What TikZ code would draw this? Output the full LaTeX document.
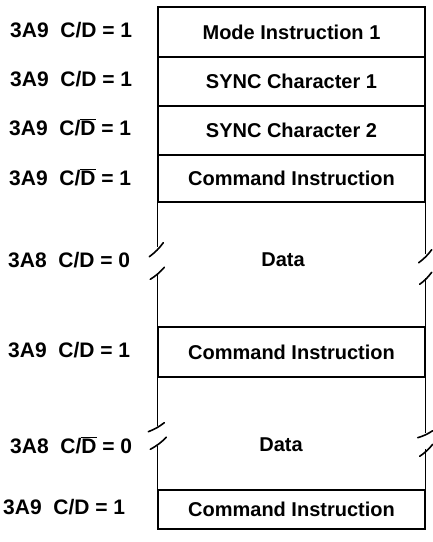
\documentclass[tikz,border=0pt]{standalone}
\usepackage{fontspec}
\setmainfont{Liberation Sans}
\usetikzlibrary{positioning}
\newcommand{\Dbar}{$\overline{\mbox{D}}$}
\tikzset{
  frame/.style={line width=1.4pt},
  tick/.style={line width=1.6pt,line cap=round},
  row/.style={draw,frame,minimum width=267pt,inner sep=0pt,font=\bfseries\fontsize{20}{24}\selectfont},
  lab/.style={anchor=west,inner sep=0pt,font=\bfseries\fontsize{21}{24}\selectfont},
}
\begin{document}
\begin{tikzpicture}[x=1pt,y=-1pt]
  \useasboundingbox (0,0) rectangle (433,542);
  % rows of the buffer
  \node[row,minimum height=50pt] (mode) at (291.5,32) {Mode Instruction 1};
  \node[row,minimum height=49pt] (sync1) at (291.5,81.5) {SYNC Character 1};
  \node[row,minimum height=49pt] (sync2) at (291.5,130.5) {SYNC Character 2};
  \node[row,minimum height=47pt] (cmd1) at (291.5,178.5) {Command Instruction};
  \node[row,minimum height=50pt] (cmd2) at (291.5,352) {Command Instruction};
  \node[row,minimum height=39pt] (cmd3) at (291.5,509.5) {Command Instruction};
  \node[font=\bfseries\fontsize{20}{24}\selectfont] (data1) at (283,260) {Data};
  \node[font=\bfseries\fontsize{20}{24}\selectfont] (data2) at (281,445) {Data};
  % broken sides of the data blocks
  \draw[frame] (cmd1.south west) -- ++(0,44) coordinate (lb1);
  \draw[tick] (lb1) ++(-8,10) to[bend right=8] ++(14,-14);
  \draw[frame] (cmd2.north west) -- ++(0,-53) coordinate (lb2);
  \draw[tick] (lb2) ++(-7,6) to[bend right=8] ++(14,-12);
  \draw[frame] (cmd1.south east) -- ++(0,51) coordinate (rb1);
  \draw[tick] (rb1) ++(-7,9) to[bend right=8] ++(13,-13);
  \draw[frame] (cmd2.north east) -- ++(0,-48) coordinate (rb2);
  \draw[tick] (rb2) ++(-6,6) to[bend right=8] ++(12,-12);
  \draw[frame] (cmd2.south west) -- ++(0,48) coordinate (lb3);
  \draw[tick] (lb3) ++(-9,6) to[bend right=8] ++(16,-9);
  \draw[frame] (cmd3.north west) -- ++(0,-43) coordinate (lb4);
  \draw[tick] (lb4) ++(-7,3) to[bend right=8] ++(16,-12);
  \draw[frame] (cmd2.south east) -- ++(0,55) coordinate (rb3);
  \draw[tick] (rb3) ++(-8,5) to[bend right=8] ++(15,-7);
  \draw[frame] (cmd3.north east) -- ++(0,-40) coordinate (rb4);
  \draw[tick] (rb4) ++(-6,7) to[bend right=8] ++(13,-12);
  % port and C/D labels
  \node[lab] (lmode) at (10,30) {3A9\ \ C/D = 1};
  \node[lab] (lsync1) at (10,79) {3A9\ \ C/D = 1};
  \node[lab] (lsync2) at (9,127) {3A9\ \ C/\Dbar{} = 1};
  \node[lab] (lcmd1) at (9,177) {3A9\ \ C/\Dbar{} = 1};
  \node[lab] (ldata1) at (8,260) {3A8\ \ C/D = 0};
  \node[lab] (lcmd2) at (8,350) {3A9\ \ C/D = 1};
  \node[lab] (ldata2) at (10,445) {3A8\ \ C/\Dbar{} = 0};
  \node[lab] (lcmd3) at (3,507) {3A9\ \ C/D = 1};
\end{tikzpicture}
\end{document}
